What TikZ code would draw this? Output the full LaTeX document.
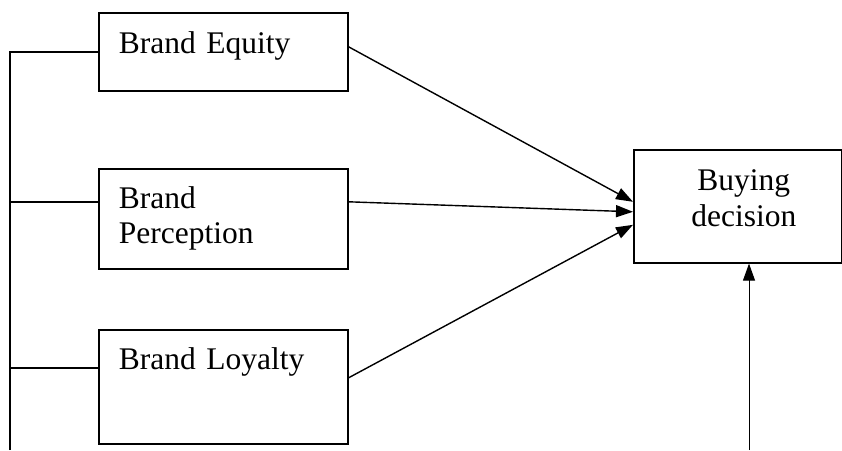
\documentclass[tikz,border=0pt]{standalone}
\usepackage{fontspec}
\setmainfont{Liberation Serif}
\usetikzlibrary{arrows.meta}
\begin{document}
\begin{tikzpicture}[x=1pt, y=-1pt]
    % Define styles
    \tikzstyle{factor} = [draw, rectangle, line width=1.6pt, anchor=north west, inner xsep=20pt, inner ysep=0pt, text width=209pt, align=left, font=\fontsize{31.5}{35}\selectfont]
    \tikzstyle{link} = [line width=1.4pt, -{Triangle[length=17pt, width=12pt]}]
    \tikzstyle{bus} = [line width=1.4pt]

    \useasboundingbox (0,0) rectangle (842,450);

    % Factors
    \node[factor, text height=41pt, text depth=37pt] (equity) at (98,12) {Brand Equity};
    \node[factor, text height=40pt, text depth=60pt] (perception) at (98,168) {Brand\\Perception};
    \node[factor, text height=40pt, text depth=74pt] (loyalty) at (98,329) {Brand Loyalty};

    % Outcome
    \node[factor, align=center, text width=168pt, text height=41pt, text depth=72pt, font=\fontsize{31.5}{36}\selectfont] (decision) at (633,149) {\hspace*{12pt}Buying\\\hspace*{12pt}decision};

    % Left bus
    \coordinate (bustop) at (10,52);
    \coordinate (busend) at (10,450);
    \draw[bus] (busend) -- (bustop) -- (bustop -| equity.west);
    \draw[bus] ([yshift=17pt]perception.west -| bustop) -- ([yshift=17pt]perception.west);
    \draw[bus] ([yshift=19pt]loyalty.west -| bustop) -- ([yshift=19pt]loyalty.west);

    % Arrows
    \draw[link] ([yshift=5pt]equity.east) -- ([yshift=4.5pt]decision.west);
    \draw[link] ([yshift=17pt]perception.east) -- ([yshift=-5.5pt]decision.west);
    \draw[link] ([yshift=9pt]loyalty.east) -- ([yshift=-18.5pt]decision.west);

    % Bottom input
    \coordinate (base) at (749,450);
    \draw[link, line width=1pt] (base) -- (base |- decision.south);
\end{tikzpicture}
\end{document}
